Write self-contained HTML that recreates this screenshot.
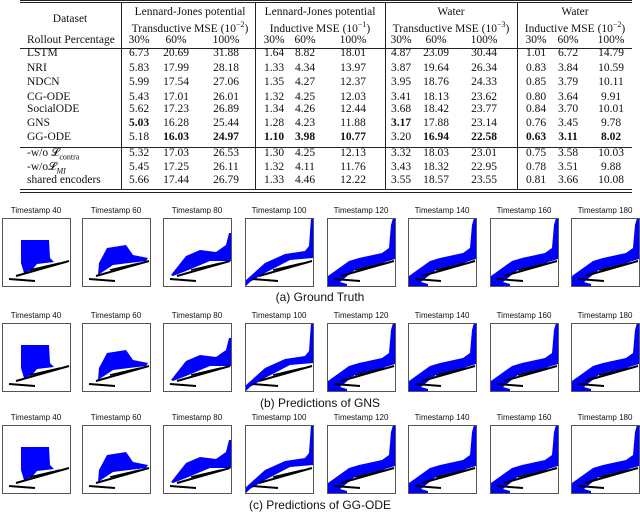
<!DOCTYPE html>
<html><head><meta charset="utf-8">
<style>
body{margin:0;width:640px;height:513px;background:#fff;position:relative;overflow:hidden;font-family:"Liberation Serif",serif;color:#111}
.t{position:absolute;font-size:11.5px;white-space:nowrap;line-height:14px}
.c{transform:translateX(-50%)}
.b{font-weight:bold}
.hl{position:absolute;background:#222;height:1px}
.vl{position:absolute;background:#222;width:1px}
.ttl{position:absolute;font-family:"Liberation Sans",sans-serif;font-size:8px;transform:translateX(-50%);white-space:nowrap}
.cap{position:absolute;font-family:"Liberation Sans",sans-serif;font-size:12px;transform:translateX(-50%);white-space:nowrap}
</style></head><body>
<div id="tbl"></div>
<svg id="plots" width="640" height="513" style="position:absolute;left:0;top:0"></svg>
<div class="cap" style="left:320px;top:290px">(a) Ground Truth</div>
<div class="cap" style="left:320px;top:396px">(b) Predictions of GNS</div>
<div class="cap" style="left:320px;top:498px">(c) Predictions of GG-ODE</div>
<script>
const methods=["LSTM","NRI","NDCN","CG-ODE","SocialODE","GNS","GG-ODE","-w/o 𝓛<sub style='font-size:8px'>contra</sub>","-w/o𝓛<sub style='font-size:8px'><i>MI</i></sub>","shared encoders"];
const vals=[
["6.73","20.69","31.88","1.64","8.82","18.01","4.87","23.09","30.44","1.01","6.72","14.79"],
["5.83","17.99","28.18","1.33","4.34","13.97","3.87","19.64","26.34","0.83","3.84","10.59"],
["5.99","17.54","27.06","1.35","4.27","12.37","3.95","18.76","24.33","0.85","3.79","10.11"],
["5.43","17.01","26.01","1.32","4.25","12.03","3.41","18.13","23.62","0.80","3.64","9.91"],
["5.62","17.23","26.89","1.34","4.26","12.44","3.68","18.42","23.77","0.84","3.70","10.01"],
["5.03","16.28","25.44","1.28","4.23","11.88","3.17","17.88","23.14","0.76","3.45","9.78"],
["5.18","16.03","24.97","1.10","3.98","10.77","3.20","16.94","22.58","0.63","3.11","8.02"],
["5.32","17.03","26.53","1.30","4.25","12.13","3.32","18.03","23.01","0.75","3.58","10.03"],
["5.45","17.25","26.11","1.32","4.11","11.76","3.43","18.32","22.95","0.78","3.51","9.88"],
["5.66","17.44","26.79","1.33","4.46","12.22","3.55","18.57","23.55","0.81","3.66","10.08"]];
const bold=[[5,0],[6,1],[6,2],[6,3],[6,4],[6,5],[5,6],[6,7],[6,8],[6,9],[6,10],[6,11]];
const colX=[139,176,226,274,305,353,401,436,484,536,568,611];
const rowY=[46,61,75,90,102,116,130,146,160,173];
const T=document.getElementById('tbl');
function add(html,cls,x,y,name){const d=document.createElement('div');d.className=cls;d.style.left=x+'px';d.style.top=y+'px';d.innerHTML=html;


T.appendChild(d);}
function line(cls,x,y,w,h,name){const d=document.createElement('div');d.className=cls;d.style.left=x+'px';d.style.top=y+'px';if(w)d.style.width=w+'px';if(h)d.style.height=h+'px';


T.appendChild(d);}
line('hl',20,0,612,0,'top-rule');line('hl',20,2,612,0,'top-rule-2');
line('hl',20,48,612,0,'header-rule');line('hl',20,147,612,0,'ablation-rule');
line('hl',20,189,612,0,'bottom-rule');line('hl',20,192,612,0,'bottom-rule-2');
[121,255,385,517].forEach(x=>line('vl',x,3,0,186,'column-divider'));
add('Dataset','t c',70,12,'dataset-header');
add('Rollout Percentage','t',27,33,'rollout-header');
const g1=["Lennard-Jones potential","Lennard-Jones potential","Water","Water"];
const g2=["Transductive MSE (10<sup style='font-size:8px'>−2</sup>)","Inductive MSE (10<sup style='font-size:8px'>−1</sup>)","Transductive MSE (10<sup style='font-size:8px'>−3</sup>)","Inductive MSE (10<sup style='font-size:8px'>−2</sup>)"];
const gc=[190,320,451,575];
for(let i=0;i<4;i++){add(g1[i],'t c',gc[i],5,'group-title');add(g2[i],'t c',gc[i],18,'group-metric');}
const pct=["30%","60%","100%"];
colX.forEach((x,i)=>add(pct[i%3],'t c',x,33,'percent-header'));
methods.forEach((m,r)=>{add(m,'t',27,rowY[r],'method-label');
vals[r].forEach((v,c)=>{const isB=bold.some(b=>b[0]==r&&b[1]==c);add(v,'t c'+(isB?' b':''),colX[c],rowY[r],'value-cell');});});

const stamps=[40,60,80,100,120,140,160,180];
const boxX=[2,82,163,245,327,408,490,571];
const rowTop=[218,323,425];
const shapes={
40:[[19,22],[47,22],[48,40],[52,44],[35,46],[30,52],[22,55],[19,45]],
60:[[17,45],[25,30],[44,27],[51,37],[66,40],[64,43],[31,47],[16,57]],
80:[[8,57],[23,38],[37,32],[53,34],[63,27],[66,15],[68,15],[68,43],[47,43],[23,53],[10,58]],
100:[[0,63],[20,45],[40,36],[60,33],[64,28],[66,0],[68,0],[68,40],[45,42],[20,55],[5,64],[1,68],[0,68]],
120:[[1,58],[22,43],[32,40],[55,35],[62,30],[64,7],[66,0],[68,0],[68,41],[55,45],[29,51],[13,64],[20,66],[20,68],[1,68]]};
const S=document.getElementById('plots');const NS='http://www.w3.org/2000/svg';
function el(tag,attrs,name){const e=document.createElementNS(NS,tag);for(const k in attrs)e.setAttribute(k,attrs[k]);


S.appendChild(e);return e;}
rowTop.forEach((y0,ri)=>{stamps.forEach((s,ci)=>{const x0=boxX[ci];
const d=document.createElement('div');d.className='ttl';d.style.left=(x0+34)+'px';d.style.top=(y0-12)+'px';d.textContent='Timestamp '+s;


document.body.appendChild(d);
const sh=shapes[s>=120?120:s];
el('polygon',{points:sh.map(p=>(x0+p[0])+','+(y0+p[1])).join(' '),fill:'#0000ff'},'fluid-particles');
el('line',{x1:x0+14,y1:y0+58,x2:x0+67,y2:y0+43,stroke:'#000','stroke-width':2},'ramp');
el('line',{x1:x0+28,y1:y0+52,x2:x0+58,y2:y0+45,stroke:'#000','stroke-width':1.5},'ramp-inner');
el('line',{x1:x0+7,y1:y0+61,x2:x0+33,y2:y0+63,stroke:'#000','stroke-width':2},'floor-bar');
el('rect',{x:x0+0.5,y:y0+0.5,width:68,height:68,fill:'none',stroke:'#555','stroke-width':1},'panel-frame');
});});
</script>
</body></html>
